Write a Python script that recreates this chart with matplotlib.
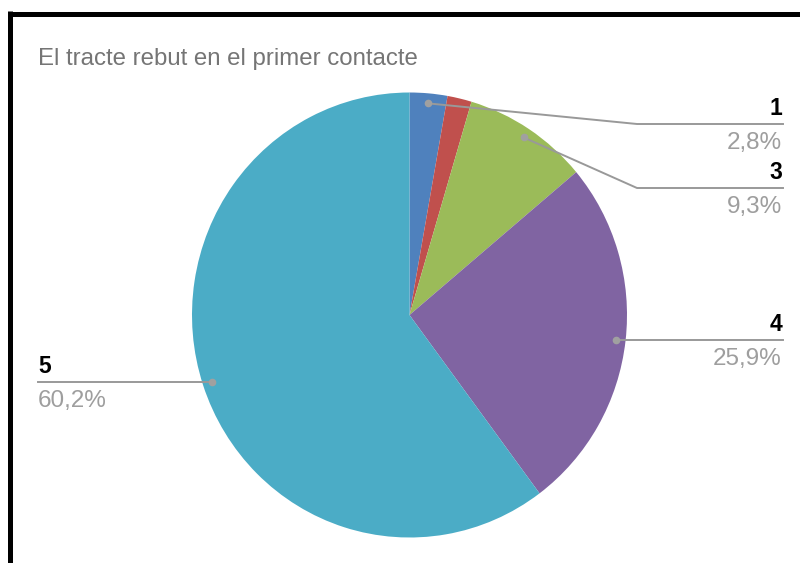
import numpy as np
import matplotlib
matplotlib.use("Agg")
import matplotlib.pyplot as plt
from matplotlib.lines import Line2D

# ---- data ----
categories = ["1", "2", "3", "4", "5"]
values = [2.8, 1.8, 9.3, 25.9, 60.2]
value_labels = ["2,8%", None, "9,3%", "25,9%", "60,2%"]
title = "El tracte rebut en el primer contacte"

# ---- style ----
colors = ["#4F81BD", "#C0504D", "#9BBB59", "#8064A2", "#4BACC6"]
W, H = 800, 563
plt.rcParams['font.family'] = ['Liberation Sans', 'DejaVu Sans']

fig = plt.figure(figsize=(W / 100, H / 100), dpi=100)
ax = fig.add_axes([0, 0, 1, 1])

# pixel geometry (slight vertical stretch as in the reference)
cx_px, cy_px = 409.5, 315.0
rx_px, ry_px = 217.5, 222.5
yscale = ry_px / rx_px

ax.pie(values, colors=colors, startangle=90, counterclock=False,
       radius=rx_px, center=(cx_px, (H - cy_px) / yscale),
       wedgeprops=dict(linewidth=0), frame=True)
ax.set_aspect('auto')
ax.set_xlim(0, W)
ax.set_ylim(0, H / yscale)
ax.axis('off')

def fx(x):
    return x / W

def fy(y):
    return 1 - y / H

# anchor dots computed from wedge mid-angles
total = sum(values)
cum = np.cumsum([0] + values)
mids = [(cum[i] + cum[i + 1]) / 2 / total * 360 for i in range(len(values))]
anchors = []
for m in mids:
    a = np.deg2rad(90 - m)
    anchors.append((cx_px + 0.955 * rx_px * np.cos(a), cy_px - 0.955 * ry_px * np.sin(a)))

# label layout: (line y, elbow x, text x, side)
layout = {
    0: dict(ly=124, ex=637, tx=782, side='right'),
    2: dict(ly=188, ex=637, tx=782, side='right'),
    3: dict(ly=340, ex=None, tx=782, side='right'),
    4: dict(ly=382, ex=None, tx=38, side='left'),
}

line_col = "#999999"
for i, lay in layout.items():
    ax_, ay_ = anchors[i]
    ly = lay['ly']
    if lay['side'] == 'right':
        if lay['ex'] is not None:
            xs = [ax_, lay['ex'], lay['tx'] + 1]
            ys = [ay_, ly, ly]
        else:
            xs = [ax_, lay['tx'] + 1]
            ys = [ly, ly]
        ha = 'right'
    else:
        xs = [lay['tx'], ax_]
        ys = [ly, ly]
        ha = 'left'
    fig.add_artist(Line2D([fx(x) for x in xs], [fy(y) for y in ys],
                          color=line_col, lw=1.4, transform=fig.transFigure))
    dy = ly if lay['ex'] is None else ay_
    fig.add_artist(Line2D([fx(ax_)], [fy(dy)], marker='o', ms=5.5, color="#A0A0A0",
                          mec='none', transform=fig.transFigure))
    fig.text(fx(lay['tx']), fy(ly - 9), categories[i], ha=ha, va='baseline',
             fontsize=16.5, fontweight='bold', color='black')
    fig.text(fx(lay['tx']), fy(ly + 25), value_labels[i], ha=ha, va='baseline',
             fontsize=17.5, color='#9E9E9E')

# title
fig.text(fx(38), fy(65), title, ha='left', va='baseline', fontsize=17.3, color='#757575')

# black frame (top and left edges)
fig.add_artist(Line2D([fx(9.5), fx(W)], [fy(13.5), fy(13.5)], color='black', lw=3.6,
                      solid_capstyle='butt', transform=fig.transFigure))
fig.add_artist(Line2D([fx(9.5), fx(9.5)], [fy(11), fy(H)], color='black', lw=3.6,
                      solid_capstyle='butt', transform=fig.transFigure))

fig.savefig("out.png", dpi=100, facecolor='white')
